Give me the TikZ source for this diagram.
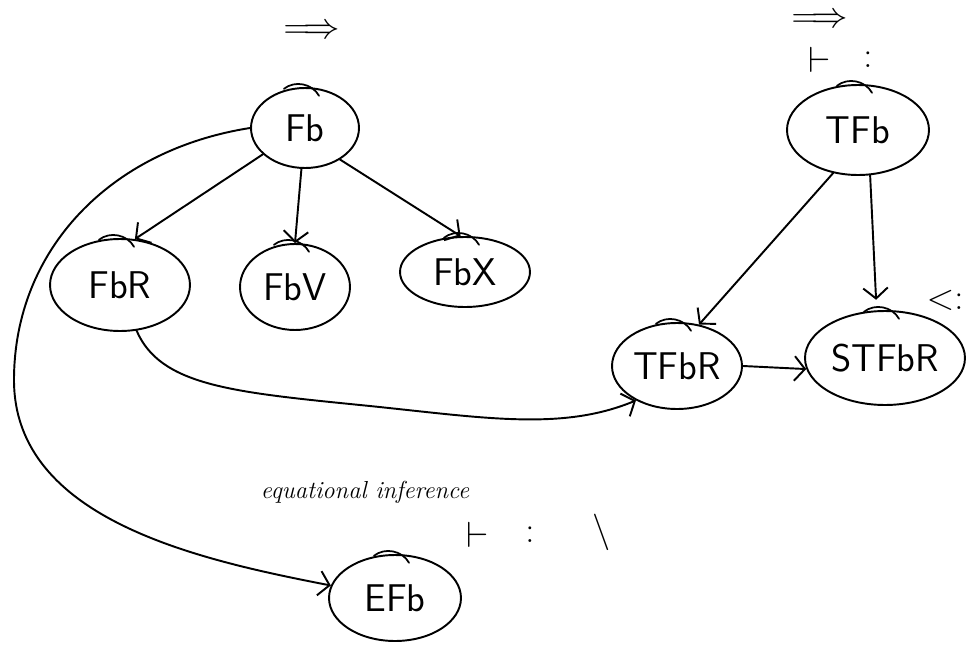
\documentclass[tikz,border=0pt]{standalone}
\usepackage{amsmath}
\usetikzlibrary{shapes.geometric, arrows.meta}

\tikzset{
  blob/.style 2 args={ellipse, draw, line width=1.1pt, inner sep=0pt,
    minimum width=#1, minimum height=#2, font=\fontsize{22}{24}\selectfont\sffamily},
  link/.style={->, line width=1.1pt},
  note/.style={font=\fontsize{20}{22}\selectfont},
}

\begin{document}
\begin{tikzpicture}[x=0.02cm, y=-0.02cm, >={Straight Barb[length=6pt,width=14pt]}, line cap=round]
    \useasboundingbox (0,0) rectangle (968,646);
    % ---------------- left family
    \node[blob={2.16cm}{1.6cm}]  (Fb)  at (305,128) {Fb};
    \node[blob={2.8cm}{1.84cm}]  (FbR) at (120,285) {FbR};
    \node[blob={2.2cm}{1.72cm}]  (FbV) at (295,287) {FbV};
    \node[blob={2.6cm}{1.4cm}]   (FbX) at (465,272) {FbX};
    \node[blob={2.64cm}{1.72cm}] (EFb) at (395,598) {EFb};
    \node[note] (arrL) at (312,32) {$\Longrightarrow$};
    % ---------------- right family
    \node[blob={2.84cm}{1.8cm}]  (TFb)   at (858,130) {TFb};
    \node[blob={2.6cm}{1.72cm}]  (TFbR)  at (677,366) {TFbR};
    \node[blob={3.2cm}{1.88cm}]  (STFbR) at (885,358) {STFbR};
    \node[note] (arrR)  at (820,21) {$\Longrightarrow$};
    \node[note] (turnR) at (820,60) {$\vdash$};
    \node[note] (colR)  at (868,60) {$:$};
    \node[note] (subR)  at (945,300) {$<:$};
    % ---------------- bottom notes
    \node[font=\fontsize{14}{16}\selectfont\itshape] (eqinf) at (365,492) {equational inference};
    \node[note] (turnE) at (478,535) {$\vdash$};
    \node[note] (colE)  at (530,535) {$:$};
    \node[note] (bslE)  at (602,532) {$\backslash$};
    % ---------------- little overshoots on top of each blob
    \foreach \n in {Fb,FbR,FbV,FbX,EFb,TFb,TFbR,STFbR}
      \draw[line width=1pt] ([xshift=-12pt,yshift=-1pt]\n.north) to[bend left=50] ([xshift=8pt,yshift=-5pt]\n.north);
    % ---------------- arrows
    \draw[link] (Fb.212) -- (FbR.72);
    \draw[link] (Fb.265) -- (FbV.north);
    \draw[link] (Fb.318) -- (FbX.97);
    \draw[link] (Fb.west) .. controls (110,150) and (14,250) .. (14,380)
                          .. controls (14,520) and (200,560) .. (EFb);
    \draw[link] (FbR.290) .. controls (160,385) and (230,392) .. (360,405)
                          .. controls (480,417) and (560,432) .. (TFbR.220);
    \draw[link] (TFb.240) -- (TFbR.62);
    \draw[link, shorten >=6pt] (TFb.285) -- (STFbR.100);
    \draw[link] (TFbR.east) -- (STFbR.188);
\end{tikzpicture}
\end{document}
